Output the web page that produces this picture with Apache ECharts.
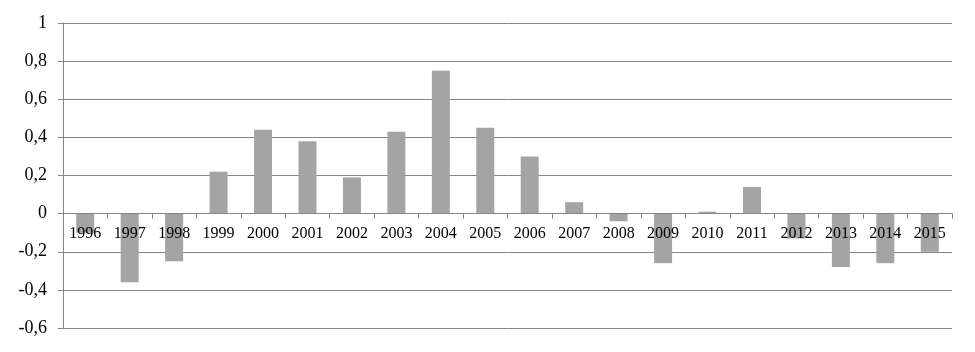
<!DOCTYPE html>
<html>
<head>
<meta charset="utf-8">
<script src="https://cdn.jsdelivr.net/npm/echarts@6/dist/echarts.min.js"></script>
<style>
  html, body { margin: 0; padding: 0; background: #fff; }
  #chart { width: 975px; height: 352px; }
</style>
</head>
<body>
<div id="chart"></div>
<script>
const years = ["1996", "1997", "1998", "1999", "2000", "2001", "2002", "2003", "2004", "2005",
  "2006", "2007", "2008", "2009", "2010", "2011", "2012", "2013", "2014", "2015"];
const values = [-0.1, -0.36, -0.25, 0.22, 0.44, 0.38, 0.19, 0.43, 0.75, 0.45,
  0.30, 0.06, -0.04, -0.26, 0.01, 0.14, -0.13, -0.28, -0.26, -0.20];
const yMin = -0.6;
const yMax = 1;

const chart = echarts.init(document.getElementById("chart"), null, { renderer: "canvas" });

const gridColor = "#868686";
const gridTop = 23;
const gridBottom = 24;
const plotHeight = 352 - gridTop - gridBottom;
// move the category axis (line, ticks, labels) up to the zero line
const zeroOffset = -plotHeight * (0 - yMin) / (yMax - yMin);

chart.setOption({
  backgroundColor: "#fff",
  animation: false,
  grid: { left: 63, right: 23, top: gridTop, bottom: gridBottom },
  xAxis: {
    type: "category",
    data: years,
    z: 5,
    offset: zeroOffset,
    axisLine: { onZero: false, lineStyle: { color: gridColor, width: 1 } },
    axisTick: { show: true, alignWithLabel: false, length: 5, lineStyle: { color: gridColor } },
    axisLabel: {
      color: "#000",
      fontFamily: "Liberation Serif",
      fontSize: 16,
      margin: 12,
      interval: 0
    }
  },
  yAxis: {
    type: "value",
    min: yMin,
    max: yMax,
    interval: 0.2,
    axisLine: { show: true, lineStyle: { color: gridColor, width: 1 } },
    axisTick: { show: true, length: 5, lineStyle: { color: gridColor } },
    splitLine: { lineStyle: { color: gridColor, width: 1 } },
    axisLabel: {
      color: "#000",
      fontFamily: "Liberation Serif",
      fontSize: 18,
      margin: 16,
      formatter: v => String(Math.round(v * 10) / 10).replace(".", ",")
    }
  },
  series: [{
    type: "bar",
    data: values,
    barWidth: 18,
    itemStyle: { color: "#a4a4a4" },
    z: 1
  }]
});
</script>
</body>
</html>
